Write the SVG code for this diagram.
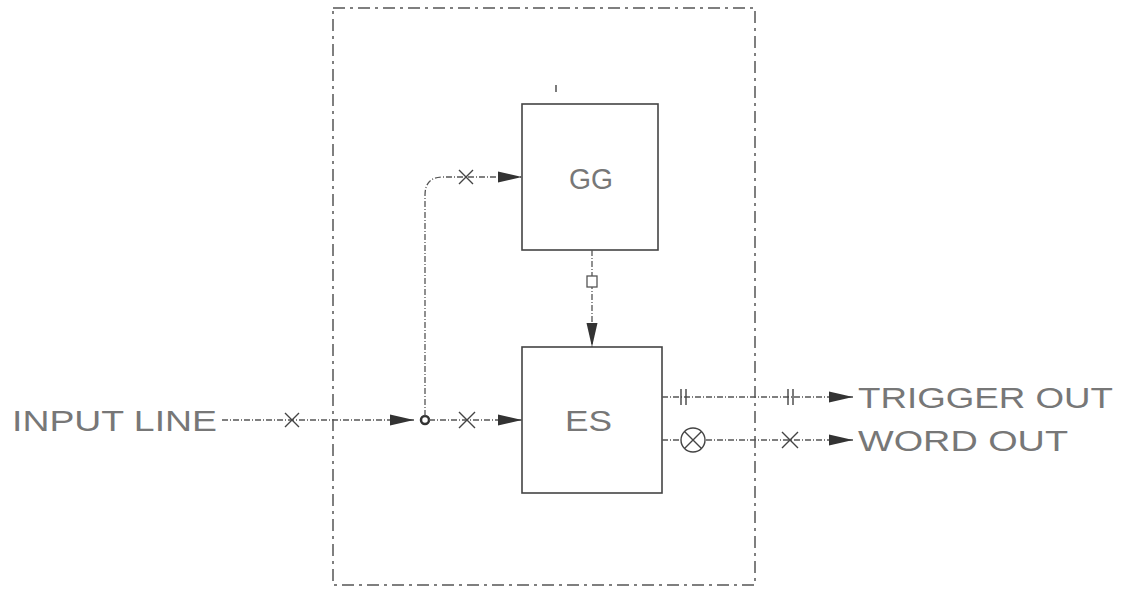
<svg xmlns="http://www.w3.org/2000/svg" width="1128" height="592" viewBox="0 0 1128 592">
<defs>
<style>
.frame{fill:none;stroke:#555;stroke-width:1.5;stroke-dasharray:12 5 3 5}
.box{fill:none;stroke:#444;stroke-width:1.6}
.wire{fill:none;stroke:#555;stroke-width:1.3;stroke-dasharray:6 2 1 2}
.mark{fill:none;stroke:#444;stroke-width:1.4}
.lbl{font-family:"Liberation Sans",Arial,sans-serif;font-size:30px;fill:#777;font-weight:normal}
</style>
<marker id="arr" markerUnits="userSpaceOnUse" markerWidth="26" markerHeight="14" refX="24" refY="7" orient="auto">
<path d="M0,1.5 L24,7 L0,12.5 z" fill="#333"/>
</marker>
</defs>
<rect width="1128" height="592" fill="#fff"/>
<g id="frame">
<rect class="frame" x="333" y="8" width="422" height="577"/>
<line class="mark" x1="556" y1="85" x2="556" y2="92"/>
</g>
<g id="GG">
<rect class="box" x="522" y="104" width="136" height="146"/>
<text class="lbl" x="569" y="189" textLength="44" lengthAdjust="spacingAndGlyphs">GG</text>
</g>
<g id="ES">
<rect class="box" x="522" y="347" width="140" height="146"/>
<text class="lbl" x="565" y="431" textLength="47" lengthAdjust="spacingAndGlyphs">ES</text>
</g>
<g id="input-label">
<text class="lbl" x="12" y="431" textLength="205" lengthAdjust="spacingAndGlyphs">INPUT LINE</text>
</g>
<g id="trigger-label">
<text class="lbl" x="858" y="408" textLength="255" lengthAdjust="spacingAndGlyphs">TRIGGER OUT</text>
</g>
<g id="word-label">
<text class="lbl" x="858" y="451" textLength="210" lengthAdjust="spacingAndGlyphs">WORD OUT</text>
</g>
<g id="connectors">
<path class="wire" d="M222,420 H414" marker-end="url(#arr)"/>
<path class="mark" d="M285,413 L299,427 M299,413 L285,427"/>
<circle cx="425" cy="420" r="4" fill="none" stroke="#333" stroke-width="2.5"/>
<path class="wire" d="M429,420 H522" marker-end="url(#arr)"/>
<path class="mark" d="M459,412 L475,428 M475,412 L459,428"/>
<path class="wire" d="M425,416 V195 Q425,177 443,177 H522" marker-end="url(#arr)"/>
<path class="mark" d="M459,170 L473,184 M473,170 L459,184"/>
<path class="wire" d="M592,250 V347" marker-end="url(#arr)"/>
<rect x="587" y="276" width="10" height="11" fill="#fff" stroke="#555" stroke-width="1.3"/>
<path class="wire" d="M662,397 H853" marker-end="url(#arr)"/>
<path class="mark" d="M681,389 V405 M686,389 V405 M788,389 V405 M793,389 V405"/>
<path class="wire" d="M662,440 H853" marker-end="url(#arr)"/>
<circle cx="693" cy="440" r="12" fill="#fff" stroke="#444" stroke-width="1.4"/>
<path class="mark" d="M684.5,431.5 L701.5,448.5 M701.5,431.5 L684.5,448.5"/>
<path class="mark" d="M782,432 L798,448 M798,432 L782,448"/>
</g>
</svg>
